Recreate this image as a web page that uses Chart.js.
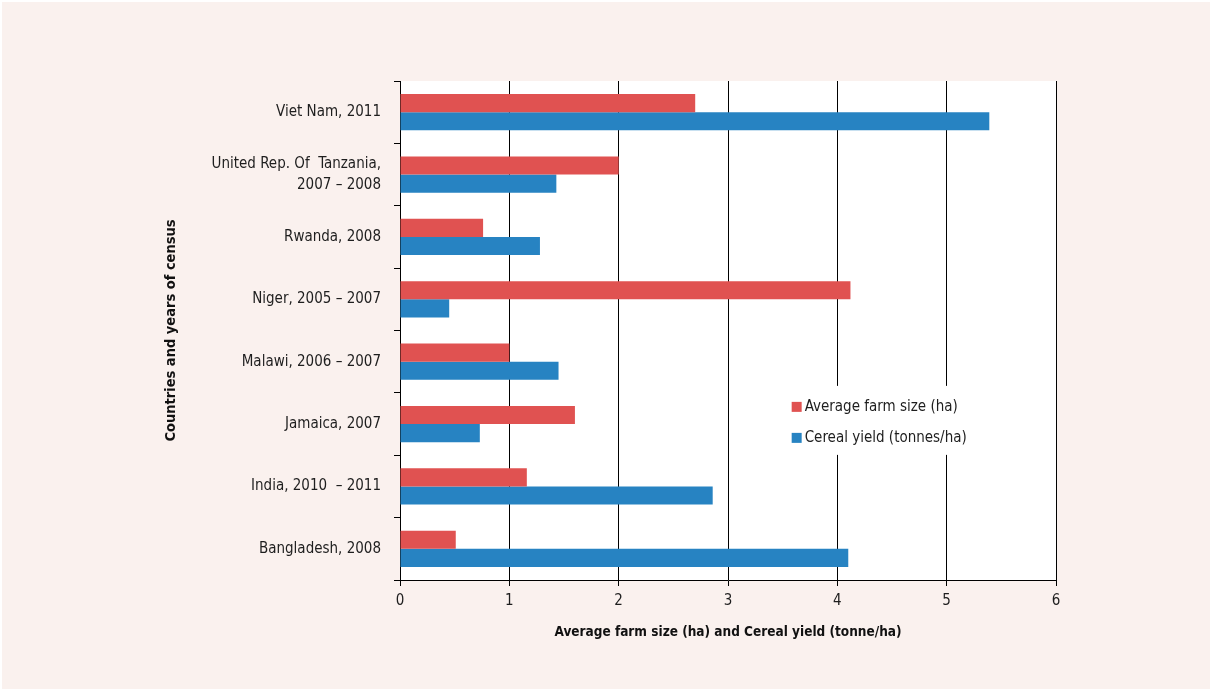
<!DOCTYPE html>
<html>
<head>
<meta charset="utf-8">
<title>Average farm size and cereal yield</title>
<script src="https://cdn.jsdelivr.net/npm/chart.js@4.4.1/dist/chart.umd.min.js"></script>
<style>
	html, body { margin: 0; padding: 0; background: #ffffff; }
	#wrap { position: relative; width: 1212px; height: 691px; }
</style>
</head>
<body>
<div id="wrap"><canvas id="myChart" width="1212" height="691"></canvas></div>
<script>
const countries = [
	'Viet Nam, 2011',
	['United Rep. Of  Tanzania,', '2007 \u2013 2008'],
	'Rwanda, 2008',
	'Niger, 2005 \u2013 2007',
	'Malawi, 2006 \u2013 2007',
	'Jamaica, 2007',
	'India, 2010  \u2013 2011',
	'Bangladesh, 2008'
];
const farmSize = [2.70, 2.00, 0.76, 4.12, 1.00, 1.60, 1.16, 0.51];
const cerealYield = [5.39, 1.43, 1.28, 0.45, 1.45, 0.73, 2.86, 4.10];
const seriesNames = ['Average farm size (ha)', 'Cereal yield (tonnes/ha)'];
const xTicks = [0, 1, 2, 3, 4, 5, 6];

const RED = '#e05251';
const BLUE = '#2783c2';
const PINK = '#faf1ee';
const FONT = "'Liberation Sans Narrow', 'DejaVu Sans Condensed', 'Arial Narrow', sans-serif";

Chart.defaults.font.family = FONT;
Chart.defaults.color = '#1e1e1e';

// pink page, white plot area
const backdrop = {
	id: 'backdrop',
	beforeDraw(chart) {
		const c = chart.ctx, a = chart.chartArea;
		c.save();
		c.fillStyle = PINK;
		c.fillRect(2, 2, chart.width - 4, chart.height - 4);
		c.fillStyle = '#ffffff';
		c.fillRect(a.left, a.top, a.right - a.left, a.bottom - a.top);
		c.restore();
	}
};

// legend sitting inside the plot, on a white box
const innerLegend = {
	id: 'innerLegend',
	beforeDatasetsDraw(chart) {
		const c = chart.ctx;
		const x = chart.scales.x.getPixelForValue(3.5);
		const y = chart.scales.y.getPixelForValue(4.5);
		c.save();
		c.fillStyle = '#ffffff';
		c.fillRect(x - 6, y - 7, 200, 69);
		c.font = '15px ' + FONT;
		c.textBaseline = 'middle';
		chart.data.datasets.forEach((ds, i) => {
			const rowY = y + 14 + i * 31;
			c.fillStyle = ds.backgroundColor;
			c.fillRect(x + 9, rowY - 5, 10, 10);
			c.fillStyle = '#1e1e1e';
			c.fillText(ds.label, x + 22, rowY);
		});
		c.restore();
	}
};

const ctx = document.getElementById('myChart').getContext('2d');
const myChart = new Chart(ctx, {
	type: 'bar',
	data: {
		labels: countries,
		datasets: [
			{ label: seriesNames[0], data: farmSize, backgroundColor: RED },
			{ label: seriesNames[1], data: cerealYield, backgroundColor: BLUE }
		]
	},
	options: {
		indexAxis: 'y',
		responsive: false,
		animation: false,
		datasets: {
			bar: { categoryPercentage: 0.58, barPercentage: 1.0 }
		},
		layout: {
			padding: { left: 163, top: 81, right: 156, bottom: 50 }
		},
		plugins: {
			legend: { display: false },
			tooltip: { enabled: false }
		},
		scales: {
			x: {
				min: 0,
				max: 6,
				afterBuildTicks: (scale) => { scale.ticks = xTicks.map(v => ({ value: v })); },
				afterFit: (scale) => { scale.height = 61; },
				grid: { color: '#000000', lineWidth: 1, tickLength: 6, tickColor: '#000000' },
				border: { color: '#000000', width: 1 },
				ticks: { font: { size: 15 }, padding: 6, color: '#1e1e1e' },
				title: {
					display: true,
					text: 'Average farm size (ha) and Cereal yield (tonne/ha)',
					font: { size: 13.5, weight: 'bold' },
					padding: { top: 0, bottom: 0 },
					color: '#111'
				}
			},
			y: {
				afterFit: (scale) => { scale.width = 237; },
				grid: { drawOnChartArea: false, offset: true, tickLength: 6, tickColor: '#000000' },
				border: { color: '#000000', width: 1 },
				ticks: { font: { size: 15, lineHeight: 1.45 }, padding: 13, color: '#1e1e1e' },
				title: {
					display: true,
					text: 'Countries and years of census',
					font: { size: 14.5, weight: 'bold' },
					padding: { top: 0, bottom: 0 },
					color: '#111'
				}
			}
		}
	},
	plugins: [backdrop, innerLegend]
});
</script>
</body>
</html>
